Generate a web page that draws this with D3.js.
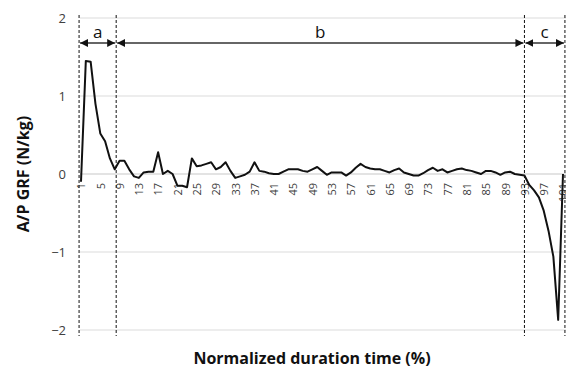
<!DOCTYPE html>
<html>
<head>
<meta charset="utf-8">
<script src="https://cdn.jsdelivr.net/npm/d3@7"></script>
<style>
  body { margin: 0; background: #fff; }
  svg { display: block; font-family: "Open Sans", "Noto Sans", sans-serif; }
</style>
</head>
<body>
<svg id="chart" width="566" height="372"></svg>
<script>
// normalized time points 1..101 (%)
var categories = d3.range(1, 102);
// A/P GRF (N/kg)
var grf = [
  -0.10, 1.45, 1.44, 0.90, 0.52, 0.42, 0.20, 0.06, 0.17, 0.17,
   0.06, -0.03, -0.05, 0.02, 0.03, 0.03, 0.28, 0.00, 0.04, 0.00,
  -0.15, -0.15, -0.17, 0.20, 0.10, 0.11, 0.13, 0.15, 0.06, 0.09,
   0.15, 0.04, -0.05, -0.03, -0.01, 0.03, 0.15, 0.04, 0.03, 0.01,
   0.00, 0.00, 0.03, 0.06, 0.06, 0.06, 0.04, 0.03, 0.06, 0.09,
   0.04, -0.01, 0.02, 0.02, 0.02, -0.02, 0.02, 0.08, 0.13, 0.09,
   0.07, 0.06, 0.06, 0.04, 0.02, 0.05, 0.07, 0.02, 0.00, -0.02,
  -0.02, 0.01, 0.05, 0.08, 0.04, 0.06, 0.02, 0.04, 0.06, 0.07,
   0.05, 0.04, 0.02, 0.00, 0.04, 0.04, 0.02, -0.01, 0.02, 0.03,
   0.00, -0.01, -0.02, -0.14, -0.21, -0.30, -0.47, -0.73, -1.06, -1.87,
   0.00
];
var xTickLabels = d3.range(1, 102, 4);
var yTicks = [-2, -1, 0, 1, 2];
// phase boundaries (in % of duration) and their labels
var phaseBounds = [0.6, 8.3, 93, 101.4];
var phaseLabels = ["a", "b", "c"];

var svg = d3.select("#chart");

var x = d3.scaleLinear().domain([1, 101]).range([81, 563]);
var y = d3.scaleLinear().domain([-2, 2]).range([330, 18]);

// gridlines
svg.append("g")
    .selectAll("line")
    .data(yTicks)
    .join("line")
      .attr("x1", 80).attr("x2", 566)
      .attr("y1", d => y(d)).attr("y2", d => y(d))
      .attr("stroke", d => d === 0 ? "#c8c8c8" : "#dcdcdc")
      .attr("stroke-width", 1.2);

// y axis labels
var yAxis = svg.append("g")
    .attr("transform", "translate(66,0)")
    .call(d3.axisLeft(y).tickValues(yTicks).tickSize(0).tickPadding(0).tickFormat(d3.format("d")));
yAxis.select(".domain").remove();
yAxis.selectAll("text")
    .attr("fill", "#404040")
    .style("font-size", "13px")
    .style("font-family", "'Open Sans', sans-serif");

// x axis labels (rotated)
var xAxis = svg.append("g")
    .attr("transform", "translate(0," + y(0) + ")")
    .call(d3.axisBottom(x).tickValues(xTickLabels).tickSize(0).tickFormat(d3.format("d")));
xAxis.select(".domain").remove();
xAxis.selectAll("text")
    .attr("fill", "#404040")
    .style("font-size", "11px")
    .style("font-family", "'Open Sans', sans-serif")
    .attr("text-anchor", "end")
    .attr("transform", "rotate(-90)")
    .attr("x", -9)
    .attr("y", 0)
    .attr("dy", "0.35em");

// dashed phase boundaries
svg.append("g")
    .selectAll("line")
    .data(phaseBounds)
    .join("line")
      .attr("x1", d => x(d)).attr("x2", d => x(d))
      .attr("y1", 15).attr("y2", 336)
      .attr("stroke", "#111")
      .attr("stroke-width", 1)
      .attr("stroke-dasharray", "3,2");

// arrow markers
var defs = svg.append("defs");
defs.append("marker")
    .attr("id", "arrow")
    .attr("viewBox", "0 0 10 10")
    .attr("refX", 10).attr("refY", 5)
    .attr("markerWidth", 8).attr("markerHeight", 8)
    .attr("markerUnits", "userSpaceOnUse")
    .attr("orient", "auto-start-reverse")
  .append("path")
    .attr("d", "M0,0L10,5L0,10Z")
    .attr("fill", "#111");

var phases = phaseLabels.map((l, i) => ({label: l, from: phaseBounds[i], to: phaseBounds[i + 1]}));
var arrowY = 43;

svg.append("g")
    .selectAll("line")
    .data(phases)
    .join("line")
      .attr("x1", d => x(d.from) + 1).attr("x2", d => x(d.to) - 1)
      .attr("y1", arrowY).attr("y2", arrowY)
      .attr("stroke", "#333")
      .attr("stroke-width", 1.5)
      .attr("marker-start", "url(#arrow)")
      .attr("marker-end", "url(#arrow)");

svg.append("g")
    .selectAll("text")
    .data(phases)
    .join("text")
      .attr("x", d => (x(d.from) + x(d.to)) / 2)
      .attr("y", 38)
      .attr("text-anchor", "middle")
      .style("font-size", "17px")
      .attr("fill", "#111")
      .text(d => d.label);

// the curve
var line = d3.line()
    .x((d, i) => x(categories[i]))
    .y(d => y(d));

svg.append("path")
    .datum(grf)
    .attr("fill", "none")
    .attr("stroke", "#111")
    .attr("stroke-width", 2)
    .attr("stroke-linejoin", "round")
    .attr("d", line);

// axis titles
svg.append("text")
    .attr("transform", "translate(29," + y(0) + ") rotate(-90)")
    .attr("text-anchor", "middle")
    .style("font-size", "16px")
    .style("font-weight", "bold")
    .attr("fill", "#111")
    .text("A/P GRF (N/kg)");

svg.append("text")
    .attr("x", 312)
    .attr("y", 364)
    .attr("text-anchor", "middle")
    .style("font-size", "16px")
    .style("font-weight", "bold")
    .attr("fill", "#111")
    .text("Normalized duration time (%)");
</script>
</body>
</html>
